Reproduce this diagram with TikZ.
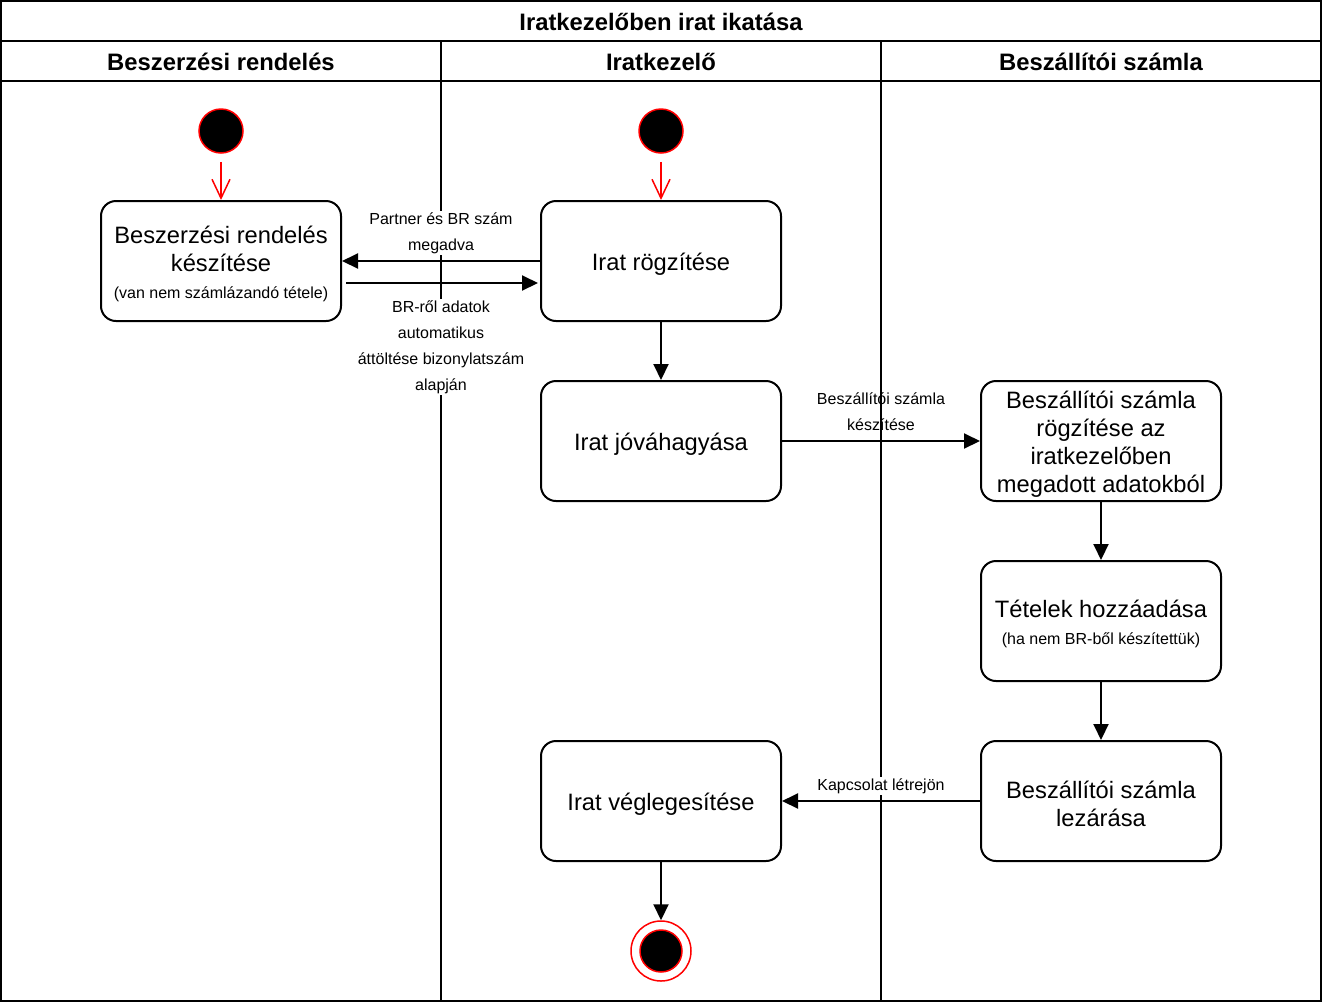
\documentclass[tikz,border=0pt]{standalone}
\usepackage{fontspec}
\setmainfont{Liberation Sans}
\usetikzlibrary{arrows.meta}
\tikzset{
  lane/.style={draw=black, line width=2pt},
  actbox/.style={draw=black, fill=white, line width=2pt, rounded corners=15pt, minimum width=240pt, minimum height=120pt, inner sep=0pt},
  boxtext/.style={align=center, inner sep=0pt, font=\fontsize{23.7}{28}\selectfont},
  hdr/.style={font=\bfseries\fontsize{23.8}{26}\selectfont, anchor=center},
  startnode/.style={circle, draw=red, fill=black, line width=1.5pt, minimum size=44pt, inner sep=0pt},
  flow/.style={draw=black, line width=2pt, -{Triangle[length=16pt,width=15pt]}},
  redflow/.style={draw=red, line width=1.5pt, -{Straight Barb[length=19pt,width=18pt,line width=1.5pt]}},
  elabel/.style={font=\fontsize{16}{26}\selectfont, align=center, inner sep=1pt}
}
\newcommand{\subtxt}[1]{{\fontsize{16}{20}\selectfont #1}}
\begin{document}
\begin{tikzpicture}[x=1pt,y=-1pt]
\useasboundingbox (0,0) rectangle (1322,1002);
% pool frame
\draw[lane] (1,1) rectangle (1321,1001);
\draw[lane] (1,41) -- (1321,41);
\draw[lane] (1,81) -- (1321,81);
\draw[lane] (441,41) -- (441,1001);
\draw[lane] (881,41) -- (881,1001);
\node[hdr] (title) at (661,22) {Iratkezelőben irat ikatása};
\node[hdr] (h1) at (221,62) {Beszerzési rendelés};
\node[hdr] (h2) at (661,62) {Iratkezelő};
\node[hdr] (h3) at (1101,62) {Beszállítói számla};

% start nodes
\node[startnode] (s1) at (221,131) {};
\node[startnode] (s2) at (661,131) {};

% boxes
\node[actbox] (br) at (221,261) {};
\node[boxtext] (brt) at ([yshift=-3pt]br.center) {Beszerzési rendelés\\készítése\\[-1pt]\subtxt{(van nem számlázandó tétele)}};
\node[actbox] (rog) at (661,261) {};
\node[boxtext] (rogt) at ([yshift=-3pt]rog.center) {Irat rögzítése};
\node[actbox] (jov) at (661,441) {};
\node[boxtext] (jovt) at ([yshift=-3pt]jov.center) {Irat jóváhagyása};
\node[actbox] (bsz) at (1101,441) {};
\node[boxtext] (bszt) at ([yshift=-3pt]bsz.center) {Beszállítói számla\\rögzítése az\\iratkezelőben\\megadott adatokból};
\node[actbox] (tet) at (1101,621) {};
\node[boxtext] (tett) at ([yshift=-3pt]tet.center) {Tételek hozzáadása\\[-1pt]\subtxt{(ha nem BR-ből készítettük)}};
\node[actbox] (lez) at (1101,801) {};
\node[boxtext] (lezt) at ([yshift=-3pt]lez.center) {Beszállítói számla\\lezárása};
\node[actbox] (veg) at (661,801) {};
\node[boxtext] (vegt) at ([yshift=-3pt]veg.center) {Irat véglegesítése};

% end node
\node[circle, draw=red, fill=white, line width=1.5pt, minimum size=60pt, inner sep=0pt] (e) at (661,951) {};
\node[circle, draw=red, fill=black, line width=1.5pt, minimum size=42pt, inner sep=0pt] (ein) at (661,951) {};

% red start arrows
\draw[redflow] ([yshift=-8pt]s1.south) -- (br.north);
\draw[redflow] ([yshift=-8pt]s2.south) -- (rog.north);

% labels (white background) drawn before arrows
\node[elabel, fill=white] (l1) at (441,233) {Partner és BR szám\\megadva};
\node[elabel, fill=white] (l2) at (441,347) {BR-ről adatok\\automatikus\\áttöltése bizonylatszám\\alapján};

% flows
\draw[flow] (rog.west) -- (br.east);
\draw[flow] ([xshift=4pt,yshift=-22pt]br.east) -- ([xshift=-2pt,yshift=-22pt]rog.west);
\draw[flow] (rog.south) -- (jov.north);
\draw[flow] (jov.east) -- (bsz.west);
\node[elabel] (l3) at (881,412) {Beszállítói számla\\készítése};
\draw[lane] (881,395) -- (881,430);
\draw[flow] (bsz.south) -- (tet.north);
\draw[flow] (tet.south) -- (lez.north);
\node[elabel, fill=white] (l4) at (881,786) {Kapcsolat létrejön};
\draw[flow] (lez.west) -- (veg.east);
\draw[flow] (veg.south) -- (e.north);
\end{tikzpicture}
\end{document}
